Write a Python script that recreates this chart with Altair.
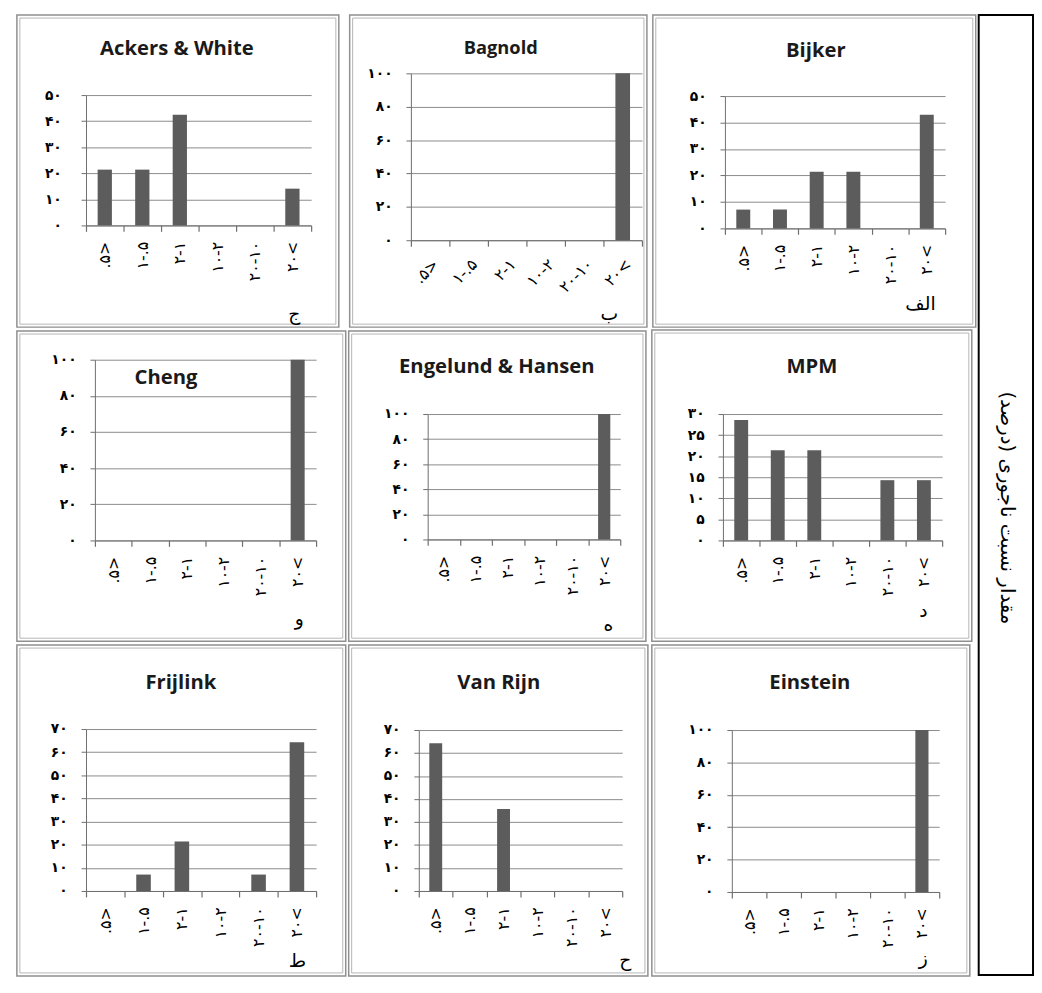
import altair as alt
import pandas as pd

# ---------------- data ----------------
categories = [".۵>", "۱-.۵", "۲-۱", "۱۰-۲", "۲۰-۱۰", "۲۰<"]

titles = ["Ackers & White", "Bagnold", "Bijker",
          "Cheng", "Engelund & Hansen", "MPM",
          "Frijlink", "Van Rijn", "Einstein"]
letters = ["ج", "ب", "الف", "و", "ه", "د", "ط", "ح", "ز"]

ackers = [21.4, 21.4, 42.5, 0, 0, 14.1]
bagnold = [0, 0, 0, 0, 0, 100]
bijker = [7.1, 7.1, 21.4, 21.4, 0, 42.9]
cheng = [0, 0, 0, 0, 0, 100]
engelund = [0, 0, 0, 0, 0, 100]
mpm = [28.6, 21.4, 21.4, 0, 14.3, 14.3]
frijlink = [0, 7.1, 21.4, 0, 7.1, 64.3]
vanrijn = [64.3, 0, 35.7, 0, 0, 0]
einstein = [0, 0, 0, 0, 0, 100]
series = [ackers, bagnold, bijker, cheng, engelund, mpm, frijlink, vanrijn, einstein]

y_max = [50, 100, 50, 100, 100, 30, 70, 70, 100]
y_step = [10, 20, 10, 20, 20, 5, 10, 10, 20]

side_title = "مقدار نسبت ناجوری (درصد)\u200f"
fa_digits = "۰۱۲۳۴۵۶۷۸۹"

# ---------------- layout (page pixel coords) ----------------
# slot: (x0, y0, width, height)
slots = [(8, 8, 330, 320), (338, 8, 306, 320), (644, 8, 333, 320),
         (8, 328, 336, 318), (344, 328, 304, 318), (648, 328, 329, 318),
         (8, 646, 336, 331), (344, 646, 306, 331), (650, 646, 327, 331)]
borders = [(9, 9, 335, 325), (340, 9, 641, 325), (647, 9, 974, 325),
           (9, 329, 342, 643), (345, 329, 646, 643), (650, 328, 974, 643),
           (9, 647, 342, 982), (345, 647, 648, 982), (652, 647, 974, 982)]
plots = [(79, 90, 307, 222), (402, 68, 636, 237), (720, 91, 943, 225),
         (88, 358, 312, 541), (425, 413, 620, 540), (722, 413, 944, 541),
         (79, 732, 312, 896), (416, 733, 622, 896), (733, 733, 943, 897)]
title_pos = [(171, 43), (493, 42), (812, 45),
             (160, 377), (495, 365), (812, 365),
             (175, 685), (497, 685), (812, 685)]
title_sizes = [20.5, 18.5, 20.5, 20.5, 20.5, 20.5, 20.5, 20.5, 20.5]
y_label_pad = [20, 14, 14, 14, 14, 14, 14, 14, 14]
letter_pos = [(290, 312), (603, 312), (918, 302),
              (295, 621), (608, 627), (925, 613),
              (293, 967), (625, 966), (927, 964)]
label_angles = [-90, -45, -90, -90, -90, -90, -90, -90, -90]
side_box = (977, 9, 1032, 981)
side_text_pos = (1006, 508)

GRID = "#8a8a8a"
AXIS = "#6e6e6e"
BAR = "#5c5c5c"

label_expr = "toString(datum.value)"
for d in range(10):
    label_expr = f"replace({label_expr}, regexp('{d}', 'g'), '{fa_digits[d]}')"

deco = pd.DataFrame({"k": [0]})


def make_panel(i):
    sx, sy, sw, sh = slots[i]
    L, T, R, B = borders[i]
    px0, ptop, px1, pzero = plots[i]
    tx, ty = title_pos[i]
    lx, ly = letter_pos[i]
    df = pd.DataFrame({"cat": categories, "val": series[i]})

    outer = alt.Chart(deco).mark_rect(filled=False, stroke="#8f8f8f", strokeWidth=1.5).encode(
        x=alt.value(L - sx), x2=alt.value(R - sx), y=alt.value(T - sy), y2=alt.value(B - sy))
    inner = alt.Chart(deco).mark_rect(filled=False, stroke="#b5b5b5", strokeWidth=1).encode(
        x=alt.value(L - sx + 3), x2=alt.value(R - sx - 3), y=alt.value(T - sy + 3), y2=alt.value(B - sy - 3))

    ticks = list(range(0, y_max[i] + 1, y_step[i]))
    bars = alt.Chart(df).mark_bar(color=BAR, width=alt.RelativeBandSize(0.38)).encode(
        x=alt.X("cat:N", sort=categories,
                scale=alt.Scale(domain=categories, range=[px0 - sx, px1 - sx],
                                paddingInner=0, paddingOuter=0),
                axis=alt.Axis(title=None, orient="bottom", offset=(pzero - sy) - sh,
                              tickBand="extent", ticks=True, labelAngle=label_angles[i],
                              labelFont="DejaVu Sans", labelFontSize=16, labelColor="black",
                              labelPadding=10, tickSize=6, tickWidth=1.2, tickColor=AXIS,
                              domainColor=AXIS, grid=False)),
        y=alt.Y("val:Q",
                scale=alt.Scale(domain=[0, y_max[i]], range=[pzero - sy, ptop - sy], nice=False),
                axis=alt.Axis(title=None, orient="left", offset=-(px0 - sx), values=ticks,
                              grid=True, gridColor=GRID, domainColor=AXIS, tickColor=AXIS,
                              tickSize=5, labelPadding=y_label_pad[i], labelExpr=label_expr,
                              labelFont="DejaVu Sans", labelFontSize=14, labelFontWeight="bold",
                              labelColor="black")),
    )
    title = alt.Chart(deco).mark_text(text=titles[i], font="Open Sans", fontWeight="bold",
                                      fontSize=title_sizes[i], align="center", baseline="middle",
                                      color="#1a1a1a").encode(
        x=alt.value(tx - sx), y=alt.value(ty - sy))
    letter = alt.Chart(deco).mark_text(text=letters[i], font="DejaVu Sans", fontSize=19,
                                       align="center", baseline="middle", color="black").encode(
        x=alt.value(lx - sx), y=alt.value(ly - sy))
    layers = [outer, inner, bars, title, letter]
    if i == 2:
        # side box spanning all rows (drawn from the top-right panel)
        bL, bT, bR, bB = side_box
        layers.append(alt.Chart(deco).mark_rect(filled=False, stroke="black", strokeWidth=2).encode(
            x=alt.value(bL - sx), x2=alt.value(bR - sx), y=alt.value(bT - sy), y2=alt.value(bB - sy)))
        stx, sty = side_text_pos
        layers.append(alt.Chart(deco).mark_text(text=side_title, font="DejaVu Sans", fontSize=20,
                                                angle=90, align="center", baseline="middle",
                                                color="black").encode(
            x=alt.value(stx - sx), y=alt.value(sty - sy)))
    return alt.layer(*layers).properties(width=sw, height=sh)


chart = alt.concat(*[make_panel(i) for i in range(9)], columns=3, spacing=0,
                   bounds="flush", align="none").properties(
    padding=0).configure_view(stroke=None)

chart.save("out.html", embed_options={"renderer": "svg", "actions": False})
